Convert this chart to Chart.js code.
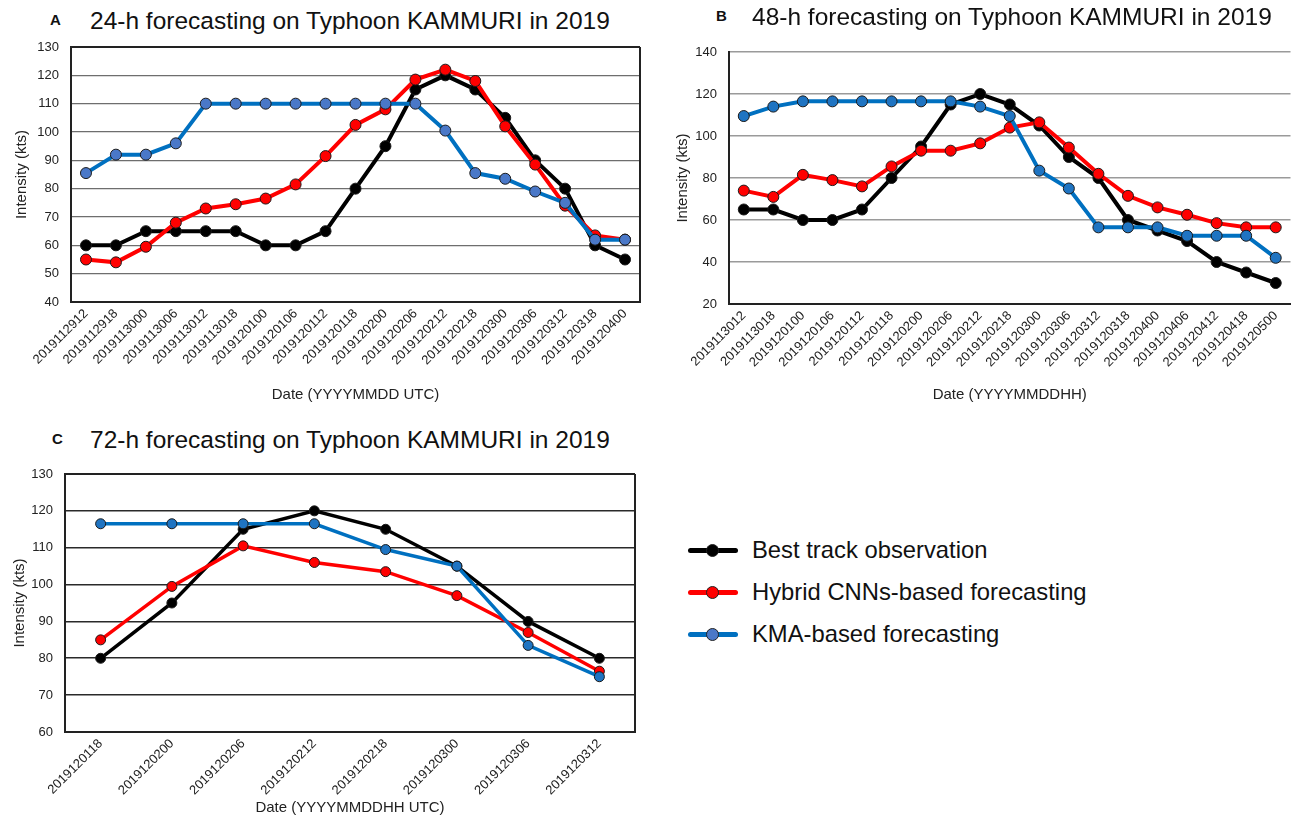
<!DOCTYPE html>
<html>
<head>
<meta charset="utf-8">
<script src="https://cdn.jsdelivr.net/npm/chart.js@4/dist/chart.umd.min.js"></script>
<style>
  html, body { margin:0; padding:0; background:#fff; width:1296px; height:819px; overflow:hidden; }
  body { position:relative; font-family:"Liberation Sans", Arial, sans-serif; color:#111; }
  .panel { position:absolute; }
  .letter { position:absolute; font-weight:bold; font-size:15px; line-height:1; }
  .title { position:absolute; font-size:24.5px; line-height:1; white-space:nowrap; }
  .legend { position:absolute; left:688px; top:529px; }
  .row { position:relative; height:42px; }
  .row .ln { position:absolute; left:0; top:19px; width:50px; height:5px; border-radius:3px; }
  .row .dot { position:absolute; left:18px; top:15px; width:11px; height:11px; border-radius:50%; border:1px solid #222; }
  .row .tx { position:absolute; left:64px; top:9px; font-size:23.8px; line-height:1; white-space:nowrap; }
</style>
</head>
<body>

<div class="letter" style="left:50px;top:12px;">A</div>
<div class="title" style="left:90px;top:9px;">24-h forecasting on Typhoon KAMMURI in 2019</div>
<div class="panel" style="left:0;top:0;"><canvas id="chartA" width="660" height="410"></canvas></div>

<div class="letter" style="left:716px;top:8px;">B</div>
<div class="title" style="left:752px;top:5px;">48-h forecasting on Typhoon KAMMURI in 2019</div>
<div class="panel" style="left:650px;top:0;"><canvas id="chartB" width="647" height="410"></canvas></div>

<div class="letter" style="left:52px;top:431px;">C</div>
<div class="title" style="left:90px;top:428px;">72-h forecasting on Typhoon KAMMURI in 2019</div>
<div class="panel" style="left:0;top:420px;"><canvas id="chartC" width="660" height="399"></canvas></div>

<div class="legend">
  <div class="row"><div class="ln" style="background:#000"></div><div class="dot" style="background:#000"></div><div class="tx">Best track observation</div></div>
  <div class="row"><div class="ln" style="background:#ff0000"></div><div class="dot" style="background:#ff0000"></div><div class="tx">Hybrid CNNs-based forecasting</div></div>
  <div class="row"><div class="ln" style="background:#0070c0"></div><div class="dot" style="background:#4a78c8"></div><div class="tx">KMA-based forecasting</div></div>
</div>

<script>
/* ---------------- DATA ---------------- */

// A: 24-h
const labelsA = [
  "2019112912","2019112918","2019113000","2019113006","2019113012",
  "2019113018","2019120100","2019120106","2019120112","2019120118",
  "2019120200","2019120206","2019120212","2019120218","2019120300",
  "2019120306","2019120312","2019120318","2019120400"
];
const bestA   = [60, 60, 65, 65, 65, 65, 60, 60, 65, 80, 95, 115, 120, 115, 105, 90, 80, 60, 55];
const hybridA = [55, 54, 59.5, 68, 73, 74.5, 76.5, 81.5, 91.5, 102.5, 108, 118.5, 122, 118, 102, 88.5, 74, 63.5, 62];
const kmaA    = [85.5, 92, 92, 96, 110, 110, 110, 110, 110, 110, 110, 110, 100.5, 85.5, 83.5, 79, 75, 62, 62];

// B: 48-h
const labelsB = [
  "2019113012","2019113018","2019120100","2019120106","2019120112",
  "2019120118","2019120200","2019120206","2019120212","2019120218",
  "2019120300","2019120306","2019120312","2019120318","2019120400",
  "2019120406","2019120412","2019120418","2019120500"
];
const bestB   = [65, 65, 60, 60, 65, 80, 95, 115, 120, 115, 105, 90, 80, 60, 55, 50, 40, 35, 30];
const hybridB = [74, 71, 81.5, 79, 76, 85.5, 93, 93, 96.5, 104, 106.5, 94.5, 82, 71.5, 66, 62.5, 58.5, 56.5, 56.5];
const kmaB    = [109.5, 114, 116.5, 116.5, 116.5, 116.5, 116.5, 116.5, 114, 109.5, 83.5, 75, 56.5, 56.5, 56.5, 52.5, 52.5, 52.5, 42];

// C: 72-h
const labelsC = [
  "2019120118","2019120200","2019120206","2019120212",
  "2019120218","2019120300","2019120306","2019120312"
];
const bestC   = [80, 95, 115, 120, 115, 105, 90, 80];
const hybridC = [85, 99.5, 110.5, 106, 103.5, 97, 87, 76.5];
const kmaC    = [116.5, 116.5, 116.5, 116.5, 109.5, 105, 83.5, 75];

/* ---------------- FRAME PLUGIN ---------------- */

const framePlugin = {
  id:"frame",
  afterDraw(chart, args, opts){
    if(!opts || !opts.sides) return;
    const {ctx, chartArea:a} = chart;
    ctx.save();
    ctx.strokeStyle = opts.color || "#222";
    ctx.lineWidth = opts.width || 2;
    ctx.beginPath();
    if(opts.sides.includes("top")){ ctx.moveTo(a.left, a.top); ctx.lineTo(a.right, a.top); }
    if(opts.sides.includes("right")){ ctx.moveTo(a.right, a.top); ctx.lineTo(a.right, a.bottom); }
    ctx.stroke();
    ctx.restore();
  }
};

/* ---------------- BUILD ---------------- */

function series(label, data, line, fill, o){
  return {
    label:label,
    data:data,
    borderColor:line,
    backgroundColor:fill,
    borderWidth:o.lw,
    pointRadius:o.pr,
    pointBackgroundColor:fill,
    pointBorderColor:"#1a1a1a",
    pointBorderWidth:1,
    tension:0,
    fill:false
  };
}

function makePanel(id, labels, best, hybrid, kma, o){
  const ctx = document.getElementById(id).getContext("2d");
  return new Chart(ctx, {
    type:"line",
    data:{
      labels:labels,
      datasets:[
        series("KMA-based forecasting", kma, "#0070c0", o.kmaDot, o),
        series("Hybrid CNNs-based forecasting", hybrid, "#ff0000", "#ff0000", o),
        series("Best track observation", best, "#000000", "#000000", o)
      ]
    },
    options:{
      responsive:false,
      animation:false,
      layout:{ padding:{ left:0, right:o.padRight, top:o.padTop, bottom:0 } },
      plugins:{
        legend:{ display:false },
        tooltip:{ enabled:false },
        frame:o.frame
      },
      scales:{
        x:{
          offset:true,
          grid:{ display:false, drawTicks:false },
          border:{ display:true, color:"#222", width:2 },
          ticks:{
            autoSkip:false,
            minRotation:45,
            maxRotation:45,
            padding:4,
            color:"#222",
            font:{ family:"Liberation Sans", size:13 }
          },
          title:{
            display:true,
            text:o.xTitle,
            color:"#222",
            padding:{ top:0, bottom:o.xTitlePad },
            font:{ family:"Liberation Sans", size:15 }
          },
          afterFit(scale){ scale.height = o.xHeight; }
        },
        y:{
          min:o.min,
          max:o.max,
          grid:{ color:o.gridColor, lineWidth:o.gridWidth, drawTicks:false },
          border:{ display:true, color:"#222", width:2 },
          ticks:{
            stepSize:o.step,
            padding:12,
            color:"#222",
            font:{ family:"Liberation Sans", size:13 }
          },
          title:{
            display:true,
            text:"Intensity (kts)",
            color:"#222",
            padding:{ top:o.yTitlePad, bottom:0 },
            font:{ family:"Liberation Sans", size:15 }
          },
          afterFit(scale){ scale.width = o.yWidth; }
        }
      }
    },
    plugins:[framePlugin]
  });
}

makePanel("chartA", labelsA, bestA, hybridA, kmaA, {
  min:40, max:130, step:10,
  yWidth:71, xHeight:108, padTop:47, padRight:20,
  xTitle:"Date (YYYYMMDD UTC)", xTitlePad:6, yTitlePad:13,
  gridColor:"#6e6e6e", gridWidth:1.3,
  lw:4, pr:5.5, kmaDot:"#4a78c8",
  frame:{ sides:["top","right"], color:"#222", width:2 }
});

makePanel("chartB", labelsB, bestB, hybridB, kmaB, {
  min:20, max:140, step:20,
  yWidth:79, xHeight:106, padTop:52, padRight:0,
  xTitle:"Date (YYYYMMDDHH)", xTitlePad:6, yTitlePad:24,
  gridColor:"#9a9a9a", gridWidth:1.6,
  lw:4, pr:5.5, kmaDot:"#1f74c2",
  frame:{ sides:[] }
});

makePanel("chartC", labelsC, bestC, hybridC, kmaC, {
  min:60, max:130, step:10,
  yWidth:65, xHeight:87, padTop:54, padRight:25,
  xTitle:"Date (YYYYMMDDHH UTC)", xTitlePad:2, yTitlePad:11,
  gridColor:"#2a2a2a", gridWidth:1.6,
  lw:3.5, pr:5, kmaDot:"#1f74c2",
  frame:{ sides:["top","right"], color:"#222", width:2 }
});
</script>
</body>
</html>
